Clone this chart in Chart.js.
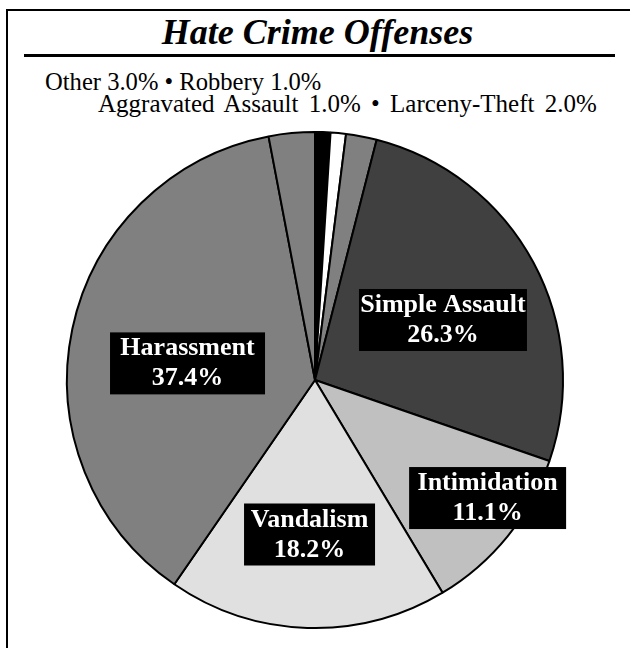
<!DOCTYPE html>
<html><head><meta charset="utf-8">
<script src="https://cdn.jsdelivr.net/npm/chart.js@4.4.1/dist/chart.umd.min.js"></script>
<style>
html,body{margin:0;padding:0;background:#fff;width:630px;height:648px;overflow:hidden;}
#frame{position:absolute;left:6px;top:9px;width:800px;height:800px;border-top:2px solid #000;border-left:2px solid #000;}
#title{position:absolute;left:0;top:14px;width:635px;text-align:center;font:italic bold 36px "Liberation Serif";line-height:36px;}
#rule{position:absolute;left:24px;top:54px;width:591px;height:3px;background:#000;}
.leg{position:absolute;font:25px "Liberation Serif";line-height:25px;white-space:nowrap;}
canvas{position:absolute;left:0;top:0;}
</style></head>
<body>
<div id="frame"></div>
<div id="title">Hate Crime Offenses</div>
<div id="rule"></div>
<div class="leg" id="leg1" style="left:45px;top:69px;font-size:24.6px;"></div>
<div class="leg" id="leg2" style="left:98px;top:91px;word-spacing:4px;"></div>
<canvas id="c" width="630" height="648"></canvas>
<script>
const categories = ['Robbery','Aggravated Assault','Larceny-Theft','Simple Assault','Intimidation','Vandalism','Harassment','Other'];
const percentages = [1.0, 1.0, 2.0, 26.3, 11.1, 18.2, 37.4, 3.0];
const sliceColors = ['#000000','#ffffff','#808080','#404040','#c0c0c0','#e0e0e0','#808080','#808080'];
const legendLine1 = ['Other','Robbery'];
const legendLine2 = ['Aggravated Assault','Larceny-Theft'];

const fmt = n => percentages[categories.indexOf(n)].toFixed(1) + '%';
document.getElementById('leg1').textContent = legendLine1.map(n => n + ' ' + fmt(n)).join(' \u2022 ');
document.getElementById('leg2').textContent = legendLine2.map(n => n + ' ' + fmt(n)).join(' \u2022 ');

// label box placement relative to pie centre, in units of radius
const boxPlacement = {
  3: {dx: 0.516, dy: -0.242, w: 168},
  4: {dx: 0.696, dy: 0.476, w: 157},
  5: {dx: -0.022, dy: 0.623, w: 131},
  6: {dx: -0.514, dy: -0.067, w: 155}
};

const boxLabels = {
  id: 'boxLabels',
  afterDatasetsDraw(chart) {
    const meta = chart.getDatasetMeta(0);
    const ctx = chart.ctx;
    ctx.save();
    Object.keys(boxPlacement).forEach(k => {
      const i = +k;
      const arc = meta.data[i];
      const p = boxPlacement[k];
      const r = arc.outerRadius;
      const cx = arc.x + p.dx * r;
      const cy = arc.y + p.dy * r;
      const h = 62;
      const top = cy - h / 2;
      ctx.fillStyle = '#000';
      ctx.fillRect(cx - p.w / 2, top, p.w, h);
      ctx.fillStyle = '#fff';
      ctx.font = 'bold 26px "Liberation Serif"';
      ctx.textAlign = 'center';
      ctx.textBaseline = 'alphabetic';
      ctx.fillText(categories[i], cx, top + 23);
      ctx.fillText(percentages[i].toFixed(1) + '%', cx, top + 53);
    });
    ctx.restore();
  }
};

new Chart(document.getElementById('c'), {
  type: 'pie',
  data: {
    labels: categories,
    datasets: [{
      data: percentages,
      backgroundColor: sliceColors,
      borderColor: '#000',
      borderWidth: 2
    }]
  },
  options: {
    responsive: false,
    animation: false,
    layout: {padding: {left: 66, right: 66, top: 131, bottom: 19}},
    plugins: {legend: {display: false}, tooltip: {enabled: false}, title: {display: false}}
  },
  plugins: [boxLabels]
});
</script>
</body></html>
